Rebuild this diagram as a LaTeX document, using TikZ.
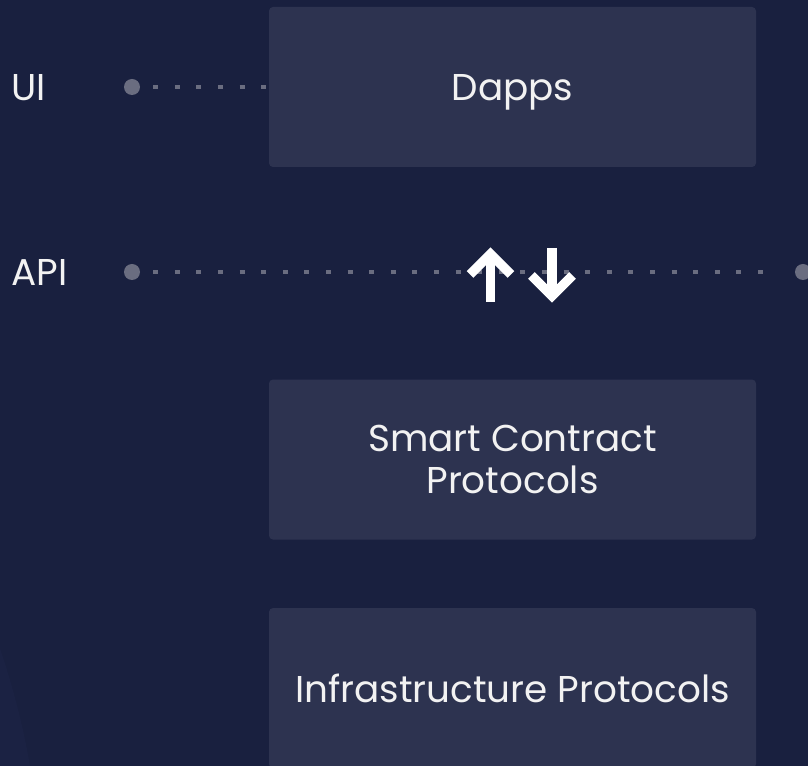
\documentclass[tikz,border=0pt]{standalone}
\usepackage{fontspec}
\setmainfont{Poppins}
\usetikzlibrary{positioning}

\definecolor{bgcol}{HTML}{19203F}
\definecolor{glowcol}{HTML}{1B2243}
\definecolor{boxcol}{HTML}{2D3350}
\definecolor{dotcol}{HTML}{6A6D80}
\definecolor{txtcol}{HTML}{F2F2F2}

\tikzset{
  layer/.style={fill=boxcol, rounded corners=3pt, minimum width=365.25pt,
    minimum height=120pt, inner sep=0pt, text=txtcol, align=center,
    font=\fontsize{28}{32}\selectfont},
  sidelabel/.style={anchor=west, inner sep=0pt, text=txtcol,
    font=\fontsize{28}{32}\selectfont},
  dotend/.style={circle, fill=dotcol, minimum size=12pt, inner sep=0pt},
  dotline/.style={dotcol, line width=3.7pt, dash pattern=on 3.7pt off 12.5pt,
    shorten <=9.75pt},
  bigarrow/.style={white, line width=7pt, miter limit=4}
}

\begin{document}
\begin{tikzpicture}[x=0.75pt, y=-0.75pt]
    \fill[bgcol] (0,0) rectangle (808,766);
    \useasboundingbox (0,0) rectangle (808,766);
    \fill[glowcol] (0,648) .. controls (14,690) and (24,730) .. (30,766) -- (0,766) -- cycle;

    % layers
    \node[layer, text depth=0pt] (dapps) at (512.5,87) {Dapps};
    \node[layer, below=159pt of dapps] (smart) {Smart Contract\\Protocols};
    \node[layer, below=51pt of smart] (infra) {Infrastructure Protocols};

    % side labels and dotted guides
    \node[sidelabel] (ui) at (11,88) {UI};
    \node[sidelabel] (api) at (11,272) {API};
    \node[dotend] (uidot) at (132,87) {};
    \node[dotend] (apidot) at (132,272) {};
    \node[dotend] (apiend) at (803,272) {};
    \draw[dotline] (uidot) -- (dapps.west);
    \draw[dotline, shorten >=14pt] (apidot) -- (apiend);

    % up and down arrows
    \coordinate (upbot) at (490.5,302);
    \coordinate (uptip) at (490.5,254);
    \coordinate (dntop) at (552,248);
    \coordinate (dntip) at (552,296);
    \draw[bigarrow] (upbot) -- (uptip);
    \draw[bigarrow] ([shift={(-20.5,20.5)}]uptip) -- (uptip) -- ([shift={(20.5,20.5)}]uptip);
    \draw[bigarrow] (dntop) -- (dntip);
    \draw[bigarrow] ([shift={(-20.5,-20.5)}]dntip) -- (dntip) -- ([shift={(20.5,-20.5)}]dntip);
\end{tikzpicture}
\end{document}
